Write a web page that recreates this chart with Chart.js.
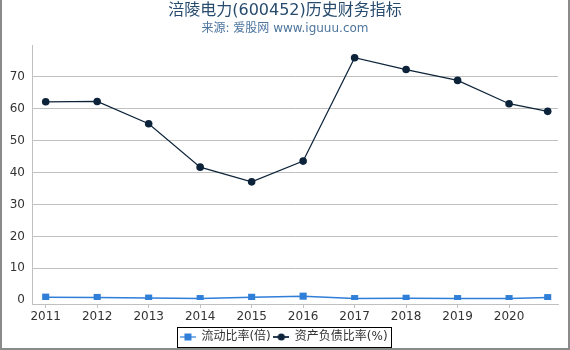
<!DOCTYPE html>
<html><head><meta charset="utf-8">
<script src="https://cdn.jsdelivr.net/npm/chart.js@4/dist/chart.umd.min.js"></script>
<style>html,body{margin:0;padding:0;background:#fff}#wrap{width:570px;height:350px;position:relative}canvas{display:block}</style>
</head><body><div id="wrap"><canvas id="c" width="570" height="350"></canvas></div>
<script>
// ---- data ----
const periods = [2011, 2012, 2013, 2014, 2015, 2016, 2017, 2018, 2019, 2020, 2020.75];
const tickYears = [2011, 2012, 2013, 2014, 2015, 2016, 2017, 2018, 2019, 2020];
const currentRatio = [0.95, 0.85, 0.65, 0.5, 0.9, 1.25, 0.5, 0.6, 0.5, 0.5, 0.8];
const debtRatio = [62.2, 62.3, 55.3, 41.7, 37.1, 43.6, 76.0, 72.3, 68.9, 61.6, 59.2];
const yTicks = [0, 10, 20, 30, 40, 50, 60, 70];
const seriesNames = ['流动比率(倍)', '资产负债比率(%)'];
const titleText = '涪陵电力(600452)历史财务指标';
const subtitleText = '来源: 爱股网 www.iguuu.com';

const FONT = '"DejaVu Sans", "Noto Sans CJK SC", sans-serif';
const BLUE = '#2f7ed8';
const DARK = '#0d233a';

function legendIcon(color, shape) {
  const c = document.createElement('canvas');
  c.width = 16; c.height = 10;
  const g = c.getContext('2d');
  g.strokeStyle = shape === 'rect' ? '#7fb2ea' : '#2b3d52';
  g.lineWidth = 2;
  g.beginPath(); g.moveTo(0, 5); g.lineTo(16, 5); g.stroke();
  g.fillStyle = color;
  if (shape === 'rect') { g.fillRect(4.5, 1.5, 7, 7); }
  else { g.beginPath(); g.arc(8, 5, 3.6, 0, Math.PI * 2); g.fill(); }
  return c;
}
const icons = [legendIcon(BLUE, 'rect'), legendIcon(DARK, 'circle')];

const pts = (vals) => vals.map((v, i) => ({x: periods[i], y: v}));

const framePlugin = {
  id: 'frame',
  afterLayout(chart) {
    chart.boxes.forEach(b => {
      if (b === chart.legend) { b.left += 5; b.right += 5; }
      else if (b.position === 'top' && !b.axis) { b.left += 6; b.right += 6; }
    });
  },
  beforeDraw(chart) {
    const ctx = chart.ctx;
    ctx.save(); ctx.fillStyle = '#fff'; ctx.fillRect(0, 0, chart.width, chart.height); ctx.restore();
  },
  afterDraw(chart) {
    const ctx = chart.ctx;
    const lg = chart.legend;
    ctx.save();
    if (lg && lg.legendHitBoxes && lg.legendHitBoxes.length) {
      const hb = lg.legendHitBoxes;
      const l = Math.min(...hb.map(h => h.left)) - 3;
      const r = Math.max(...hb.map(h => h.left + h.width)) + 4;
      const t = Math.min(...hb.map(h => h.top)) - 4;
      const b = Math.max(...hb.map(h => h.top + h.height)) + 4;
      ctx.strokeStyle = '#000'; ctx.lineWidth = 1;
      ctx.strokeRect(Math.round(l) + 0.5, Math.round(t) + 0.5, Math.round(r - l), Math.round(b - t));
    }
    ctx.strokeStyle = '#8a8a8a'; ctx.lineWidth = 2;
    ctx.beginPath();
    ctx.moveTo(1, 0); ctx.lineTo(1, chart.height - 1); ctx.lineTo(chart.width - 1, chart.height - 1); ctx.lineTo(chart.width - 1, 0);
    ctx.stroke();
    ctx.restore();
  }
};

new Chart(document.getElementById('c'), {
  type: 'line',
  data: {
    datasets: [
      { label: seriesNames[0], data: pts(currentRatio), borderColor: BLUE, backgroundColor: BLUE,
        borderWidth: 1.5, pointStyle: 'rect', pointRadius: 5, pointHoverRadius: 5, pointBorderWidth: 0,
        tension: 0, clip: {left: 20, right: 20, top: 20, bottom: -4} },
      { label: seriesNames[1], data: pts(debtRatio), borderColor: DARK, backgroundColor: DARK,
        borderWidth: 1.2, pointStyle: 'circle', pointRadius: 3.8, pointHoverRadius: 3.8, pointBorderWidth: 0,
        tension: 0 }
    ]
  },
  options: {
    responsive: false, animation: false, devicePixelRatio: 1,
    layout: { padding: { left: 0, right: 12, top: 0, bottom: 0 } },
    font: { family: FONT },
    plugins: {
      title: { display: true, text: titleText, color: '#274b6d', font: { size: 16, weight: 'normal', family: FONT }, padding: { top: 1, bottom: 0 } },
      subtitle: { display: true, text: subtitleText, color: '#4d759e', font: { size: 12, weight: 'normal', family: FONT }, padding: { top: 1, bottom: 9.4 } },
      legend: {
        position: 'bottom', maxHeight: 22,
        labels: {
          color: '#333', font: { size: 12, family: FONT }, usePointStyle: true, pointStyleWidth: 15, padding: 3,
          generateLabels: (chart) => chart.data.datasets.map((ds, i) => ({
            text: ds.label, pointStyle: icons[i], fillStyle: ds.borderColor, strokeStyle: ds.borderColor,
            lineWidth: 0, hidden: false, datasetIndex: i, fontColor: '#333'
          }))
        }
      },
      tooltip: { enabled: false }
    },
    scales: {
      x: {
        type: 'linear', min: 2010.734, max: 2020.95,
        afterBuildTicks: (s) => { s.ticks = tickYears.map(v => ({value: v})); },
        afterFit: (s) => { s.height = 24; },
        ticks: { color: '#333', font: { size: 12, family: FONT }, padding: 2, maxRotation: 0, autoSkip: false,
          callback: (v) => String(v) },
        grid: { drawOnChartArea: false, drawTicks: true, tickLength: 4, color: '#c0c0c0' },
        border: { display: true, color: '#c0c0c0', width: 1 }
      },
      y: {
        min: -1.2, max: 80,
        afterBuildTicks: (s) => { s.ticks = yTicks.map(v => ({value: v})); },
        afterFit: (s) => { s.width = 32; },
        ticks: { color: '#333', font: { size: 12, family: FONT }, padding: 7, callback: (v) => String(v) },
        grid: { drawTicks: false, color: (c) => c.tick && c.tick.value === 0 ? 'rgba(0,0,0,0)' : '#c0c0c0' },
        border: { display: true, color: '#c0c0c0', width: 1 }
      }
    }
  },
  plugins: [framePlugin]
});
</script>
</body></html>
